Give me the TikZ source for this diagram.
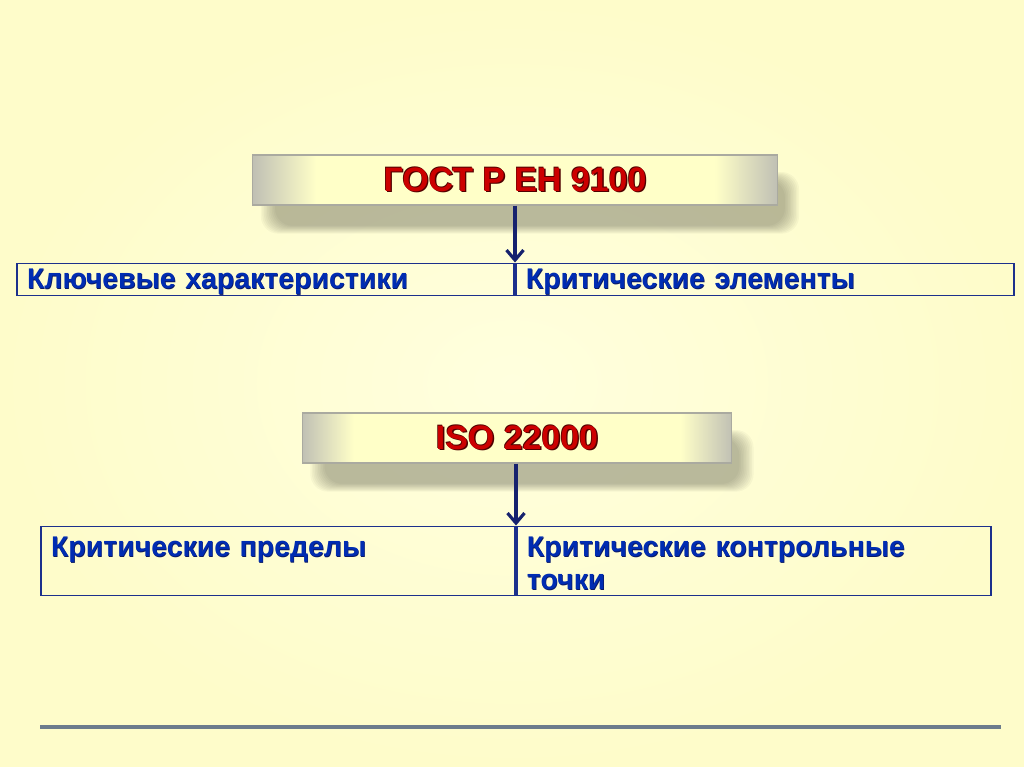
\documentclass[tikz,border=0pt]{standalone}
\usepackage{fontspec}
\setmainfont{Liberation Sans}
\usetikzlibrary{positioning,arrows.meta,backgrounds}
\pgfdeclarelayer{paper}
\pgfsetlayers{paper,background,main}
\definecolor{PaperLight}{RGB}{255,255,222}
\definecolor{PaperEdge}{RGB}{254,252,202}
\definecolor{BevelGrey}{RGB}{192,192,180}
\definecolor{BevelPale}{RGB}{255,255,200}
\definecolor{BevelLine}{RGB}{170,170,160}
\definecolor{ShadowGrey}{RGB}{70,70,60}
\definecolor{TitleRed}{RGB}{204,0,0}
\definecolor{TitleEdge}{RGB}{80,0,0}
\definecolor{CellBlue}{RGB}{0,44,178}
\definecolor{CellEdge}{RGB}{10,25,100}
\definecolor{CellLine}{RGB}{28,48,140}
\definecolor{ArrowNavy}{RGB}{22,34,110}
\definecolor{RuleGrey}{RGB}{108,124,140}
\pgfdeclarehorizontalshading{bevelx}{100bp}{color(0bp)=(BevelGrey); color(25bp)=(BevelGrey);
  color(31bp)=(BevelPale); color(69bp)=(BevelPale); color(75bp)=(BevelGrey); color(100bp)=(BevelGrey)}
\newcommand{\outlined}[3]{\leavevmode
  \rlap{\color{#1}\kern0.8pt\raisebox{-0.8pt}{#3}}%
  \rlap{\color{#1}\kern-0.4pt\raisebox{0.4pt}{#3}}%
  {\color{#2}#3}}
\newcommand{\heavy}[1]{\leavevmode
  \rlap{\color{CellEdge}\kern0.35pt\raisebox{-0.35pt}{#1}}%
  {\color{CellBlue}#1}}
\tikzset{
  flow/.style={-{Straight Barb[length=2mm,width=3.4mm]},line width=1.8pt,draw=ArrowNavy},
  titlebox/.style={shading=bevelx,draw=BevelLine,line width=0.6pt,minimum height=1cm,
    inner sep=0pt,font=\fontsize{19.3}{23}\selectfont\bfseries},
  softshadow/.style={fill=ShadowGrey,fill opacity=0.045,rounded corners=10pt},
  cellbox/.style={draw=CellLine,line width=1.1pt,inner xsep=0.2cm,inner ysep=0pt,align=left,
    font=\fontsize{16.2}{17.6}\selectfont\bfseries},
  rule/.style={line width=1.8pt,draw=RuleGrey}
}
\begin{document}
\begin{tikzpicture}[x=0.02cm,y=-0.02cm]
  \useasboundingbox (0,0) rectangle (1024,767);
  \begin{pgfonlayer}{paper}
    \shade[inner color=PaperLight,outer color=PaperEdge] (0,0) rectangle (1024,767);
  \end{pgfonlayer}
  % first standard
  \node[titlebox,minimum width=10.5cm] (gost) at (515,180) {\outlined{TitleEdge}{TitleRed}{ГОСТ Р ЕН 9100}};
  \node[cellbox,text width=9.54cm,text height=0.5cm,text depth=0.14cm,
    below left=1.14cm and 0pt of gost.south] (keychar) {\heavy{Ключевые характеристики}};
  \node[cellbox,text width=9.56cm,text height=0.5cm,text depth=0.14cm,
    right=0pt of keychar] (critel) {\heavy{Критические элементы}};
  \draw[flow] (gost.south) -- (keychar.north east);
  % second standard
  \node[titlebox,minimum width=8.6cm] (iso) at (517,438) {\outlined{TitleEdge}{TitleRed}{ISO 22000}};
  \node[cellbox,text width=9.08cm,text height=0.6cm,text depth=0.78cm,
    below left=1.24cm and 0.02cm of iso.south] (limits) {\heavy{Критические пределы}};
  \node[cellbox,text width=9.08cm,text height=0.6cm,text depth=0.78cm,
    right=0pt of limits] (ccp) {\heavy{Критические контрольные}\\[0.05cm]\heavy{точки}};
  \draw[flow] (iso.south -| limits.north east) -- (limits.north east);
  % shadows under the title boxes
  \begin{scope}[on background layer]
    \foreach \titlename in {gost,iso}
      \foreach \k in {1,...,10}
        \path[softshadow] ([xshift=14pt-\k*0.9pt,yshift=-11pt-\k*0.5pt]\titlename.south west)
          rectangle ([xshift=3pt+\k*0.9pt,yshift=-15pt+\k*0.5pt]\titlename.north east);
  \end{scope}
  \draw[rule] (40,727) -- (1001,727);
\end{tikzpicture}
\end{document}
